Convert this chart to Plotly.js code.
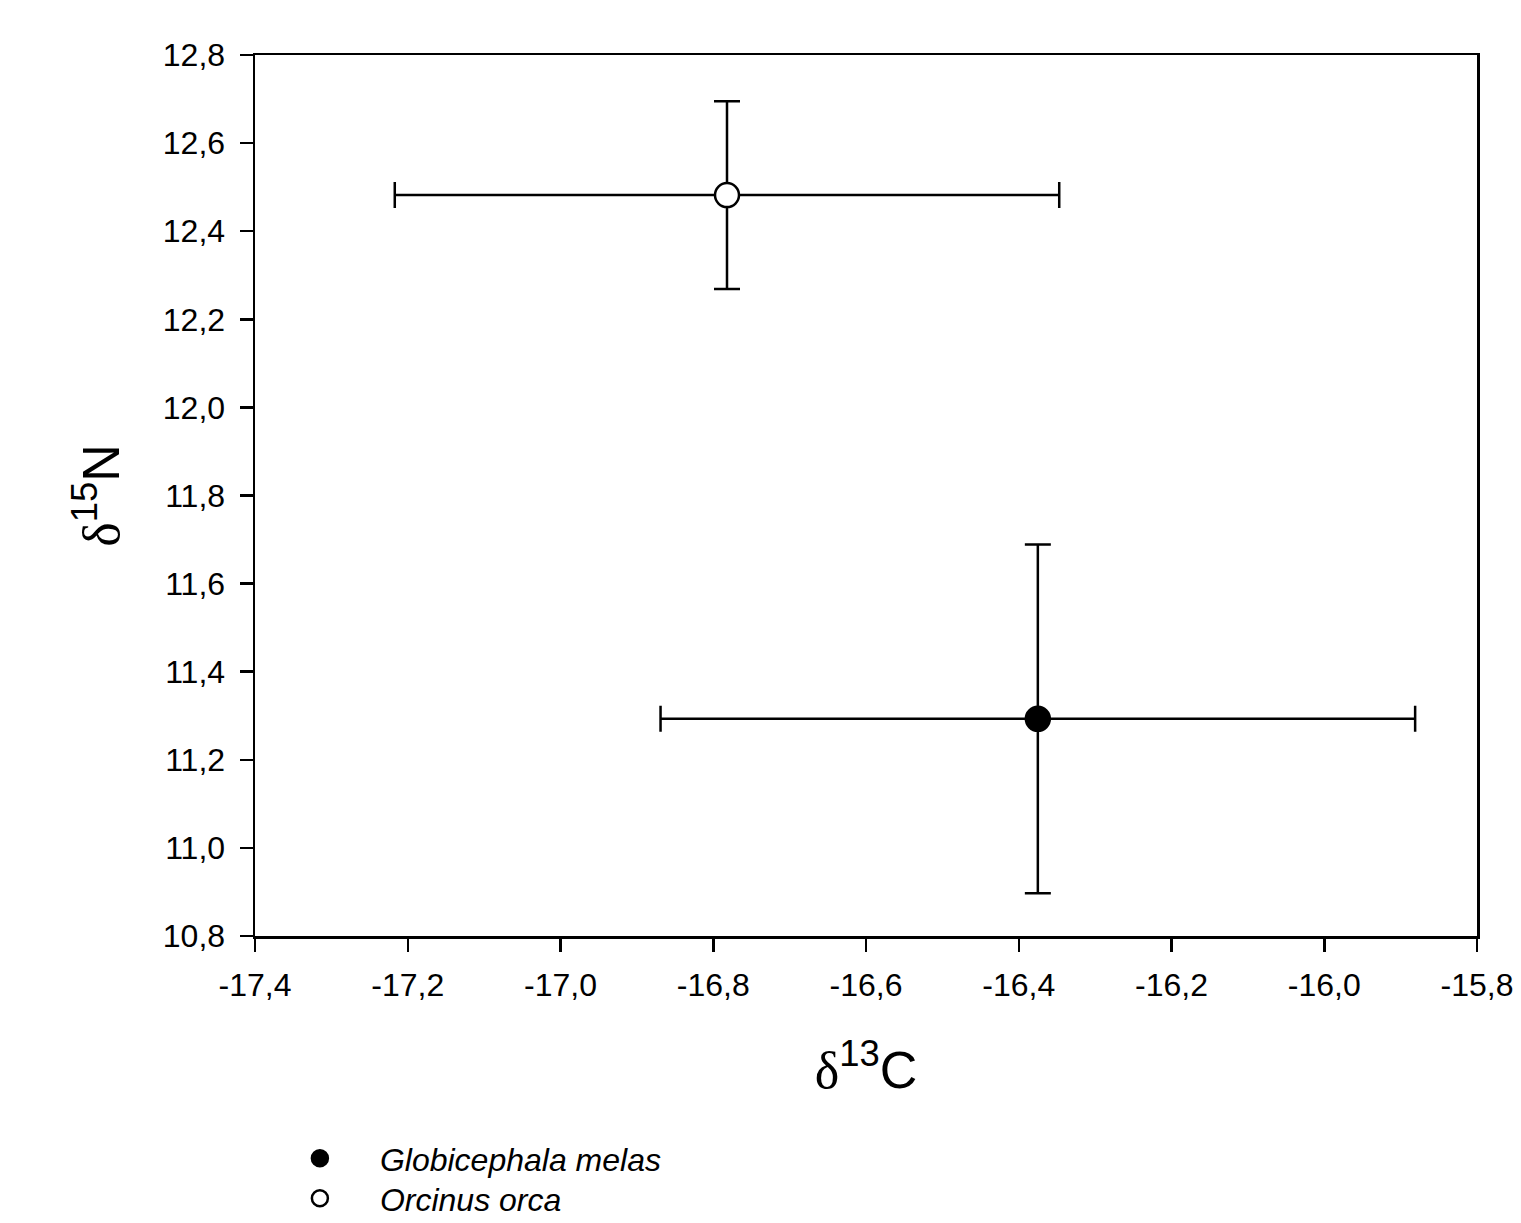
<!DOCTYPE html>
<html>
<head>
<meta charset="utf-8">
<script src="https://cdn.plot.ly/plotly-3.0.1.min.js"></script>
<style>html,body{margin:0;padding:0;background:#fff;}#chart{width:1521px;height:1223px;}</style>
</head>
<body>
<div id="chart"></div>
<script>
// Data
const species = ["Globicephala melas", "Orcinus orca"];
const d13C = [-16.375, -16.782];
const d13C_sd = [0.494, 0.435];
const d15N = [11.293, 12.482];
const d15N_sd = [0.396, 0.213];
const markerFill = ["#000000", "#ffffff"];
const legendIds = ["legend", "legend2"];
const xTickVals = [-17.4, -17.2, -17.0, -16.8, -16.6, -16.4, -16.2, -16.0, -15.8];
const xTickText = ["-17,4", "-17,2", "-17,0", "-16,8", "-16,6", "-16,4", "-16,2", "-16,0", "-15,8"];
const yTickVals = [10.8, 11.0, 11.2, 11.4, 11.6, 11.8, 12.0, 12.2, 12.4, 12.6, 12.8];
const yTickText = ["10,8", "11,0", "11,2", "11,4", "11,6", "11,8", "12,0", "12,2", "12,4", "12,6", "12,8"];

const traces = species.map((s, i) => ({
  type: "scatter",
  mode: "markers",
  name: s,
  legend: legendIds[i],
  x: [d13C[i]],
  y: [d15N[i]],
  error_x: {type: "data", array: [d13C_sd[i]], visible: true, color: "#000", thickness: 2.5, width: 13},
  error_y: {type: "data", array: [d15N_sd[i]], visible: true, color: "#000", thickness: 2.5, width: 13},
  marker: {size: 24, color: markerFill[i], line: {color: "#000", width: 2.5}},
  cliponaxis: false
}));

const sans = "Liberation Sans, Arial, sans-serif";
const legendBase = {
  xanchor: "left", yanchor: "top", x: 0.004,
  font: {family: sans, size: 32, color: "#000", style: "italic"},
  itemwidth: 110, bgcolor: "rgba(0,0,0,0)", maxheight: 200
};
const layout = {
  width: 1521, height: 1223,
  paper_bgcolor: "#fff", plot_bgcolor: "#fff",
  margin: {l: 255, r: 44, t: 55, b: 287, autoexpand: false},
  showlegend: true,
  legend: Object.assign({}, legendBase, {y: -0.2213}),
  legend2: Object.assign({}, legendBase, {y: -0.2667}),
  xaxis: {
    range: [-17.4, -15.8], tickvals: xTickVals, ticktext: xTickText,
    showgrid: false, zeroline: false, showline: true, linecolor: "#000", linewidth: 2.5,
    mirror: true, ticks: "outside", ticklen: 13, tickwidth: 2.5, tickcolor: "#000",
    ticklabelstandoff: 6,
    tickfont: {family: sans, size: 32, color: "#000"},
    title: {text: '<span style="font-family:Liberation Serif">δ</span><sup>13</sup>C', font: {family: sans, size: 52, color: "#000"}, standoff: 50}
  },
  yaxis: {
    range: [10.8, 12.8], tickvals: yTickVals, ticktext: yTickText,
    showgrid: false, zeroline: false, showline: true, linecolor: "#000", linewidth: 2.5,
    mirror: true, ticks: "outside", ticklen: 13, tickwidth: 2.5, tickcolor: "#000",
    ticklabelstandoff: 8,
    tickfont: {family: sans, size: 32, color: "#000"},
    title: {text: '<span style="font-family:Liberation Serif">δ</span><sup>15</sup>N', font: {family: sans, size: 52, color: "#000"}, standoff: 27}
  }
};

Plotly.newPlot("chart", traces, layout, {displayModeBar: false, staticPlot: true});
</script>
</body>
</html>
